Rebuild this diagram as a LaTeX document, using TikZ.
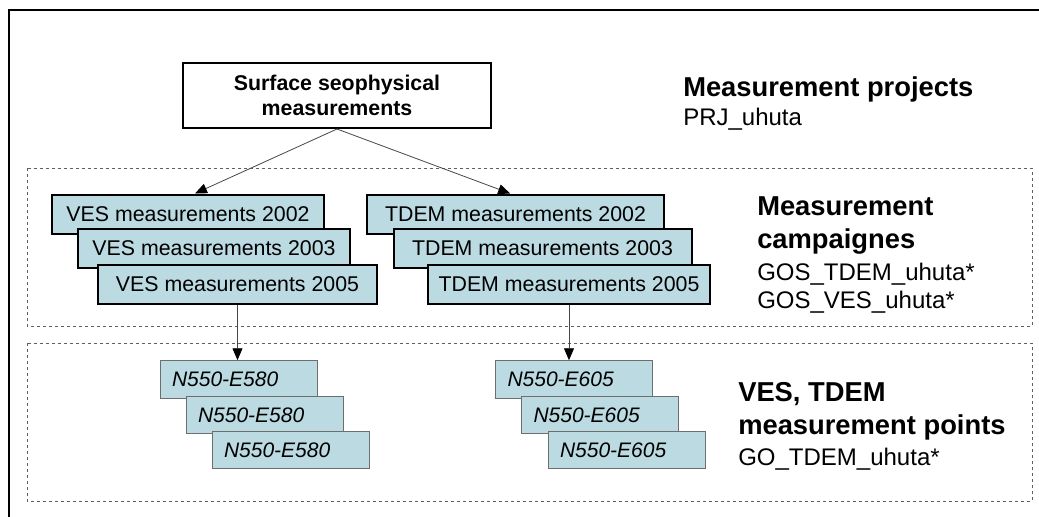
\documentclass[tikz,border=0pt]{standalone}
\usepackage{fontspec}
\setmainfont{Liberation Sans}
\usetikzlibrary{arrows.meta,calc}
\definecolor{boxfill}{RGB}{187,218,226}
\definecolor{ptline}{RGB}{110,110,110}
\definecolor{dashcol}{RGB}{95,95,95}
\definecolor{arrcol}{RGB}{70,70,70}
\tikzset{
  campbox/.style={draw=black,line width=1.5pt,fill=boxfill,inner sep=0pt,
    minimum height=29.25pt,font=\fontsize{16}{19}\selectfont},
  ptbox/.style={draw=ptline,line width=0.75pt,fill=boxfill,inner xsep=9pt,inner ysep=0pt,
    text width=99.75pt,align=left,minimum height=28.125pt,
    font=\fontsize{15.75}{19}\itshape},
  topbox/.style={draw=black,line width=1.5pt,fill=white,inner sep=0pt,align=center,
    minimum width=231pt,minimum height=48.75pt,font=\fontsize{16}{18.75}\selectfont\bfseries},
  headtxt/.style={anchor=base west,inner sep=0pt,font=\fontsize{20.5}{24}\selectfont\bfseries},
  subtxt/.style={anchor=base west,inner sep=0pt,font=\fontsize{18}{21}\selectfont},
  layerbox/.style={draw=dashcol,line width=0.75pt,dash pattern=on 2.5pt off 2pt},
  arr/.style={draw=arrcol,line width=0.6pt,-{Triangle[length=9pt,width=7.5pt,fill=black,color=black]}}
}
\begin{document}
\begin{tikzpicture}[x=0.75pt,y=-0.75pt]
\useasboundingbox (0,0) rectangle (1039,517);
% outer frame (top and left edges)
\draw[line width=1.5pt] (9,517) -- (9,10) -- (1039,10);
% layer boxes
\draw[layerbox] (27,168) rectangle (1032,326);
\draw[layerbox] (27,343) rectangle (1032,501);
% top node
\node[topbox] (top) at (337,95.5) {Surface seophysical\\measurements};
% campaign boxes
\node[campbox,minimum width=204pt] (v1) at (188,214) {VES measurements 2002};
\node[campbox,minimum width=204pt] (v2) at (214,248.5) {VES measurements 2003};
\node[campbox,minimum width=209.25pt] (v3) at (237.5,284) {VES measurements 2005};
\node[campbox,minimum width=222.75pt] (t1) at (515.5,214) {TDEM measurements 2002};
\node[campbox,minimum width=223.5pt] (t2) at (542.5,248.5) {TDEM measurements 2003};
\node[campbox,minimum width=211.5pt] (t3) at (569,284) {TDEM measurements 2005};
% point boxes
\node[ptbox] (p1) at (238.5,379.5) {N550-E580};
\node[ptbox] (p2) at (264.5,415) {N550-E580};
\node[ptbox] (p3) at (290.5,450) {N550-E580};
\node[ptbox] (q1) at (574,379.5) {N550-E605};
\node[ptbox] (q2) at (600,415) {N550-E605};
\node[ptbox] (q3) at (626.5,450) {N550-E605};
% connectors
\draw[arr] (top.south) -- ($(v1.north)+(5.25pt,0)$);
\draw[arr] (top.south) -- ($(t1.north)+(-4pt,0)$);
\draw[arr] (v3.south) -- (v3.south |- p1.north);
\draw[arr] (t3.south) -- (t3.south |- q1.north);
% right-hand texts
\node[headtxt] (h1) at (683,97) {Measurement projects};
\node[subtxt] (s1) at (683,126) {PRJ\_uhuta};
\node[headtxt] (h2a) at (757,215) {Measurement};
\node[headtxt] (h2b) at (757,248) {campaignes};
\node[subtxt] (s2a) at (757,280) {GOS\_TDEM\_uhuta*};
\node[subtxt] (s2b) at (757,308) {GOS\_VES\_uhuta*};
\node[headtxt] (h3a) at (738,401) {VES, TDEM};
\node[headtxt] (h3b) at (738,434) {measurement points};
\node[subtxt] (s3) at (738,465) {GO\_TDEM\_uhuta*};
\end{tikzpicture}
\end{document}
